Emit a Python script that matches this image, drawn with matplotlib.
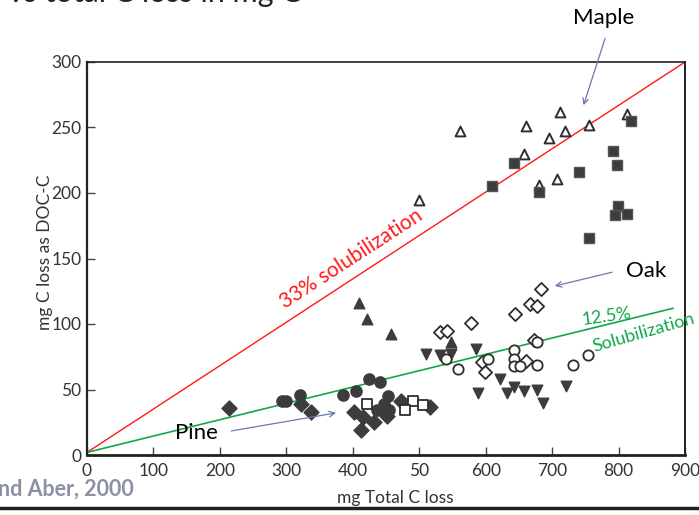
"""DOC-C loss against total C loss, with solubilization lines."""

import matplotlib
matplotlib.use("Agg")
import matplotlib.pyplot as plt
from matplotlib.lines import Line2D

plt.rcParams["font.family"] = ["Lato", "DejaVu Sans"]

# maple
maple_open_tri_x = [500, 561, 661, 712, 720, 696, 658, 756, 812, 681, 707]
maple_open_tri_y = [195, 247, 251, 262, 247, 242, 230, 252, 260, 206, 211]
maple_sq_x = [642, 610, 681, 740, 791, 798, 818, 799, 795, 812, 756]
maple_sq_y = [223, 205, 201, 216, 232, 221, 255, 190, 183, 184, 166]

# filled triangles (up / down)
tri_up_x = [410, 422, 457, 548]
tri_up_y = [116, 104, 92, 86]
tri_down_x = [510, 532, 548, 585, 589, 621, 642, 632, 657, 677, 686, 721]
tri_down_y = [77, 76, 77, 81, 47, 58, 52, 47.5, 49, 50, 39.5, 53]

# oak
oak_diamond_x = [532, 542, 578, 644, 666, 677, 684, 672, 595, 599, 661]
oak_diamond_y = [94, 95, 101, 108, 115, 114, 127, 88, 71, 63, 72]
oak_circle_x = [540, 558, 603, 642, 642, 642, 652, 677, 678, 731, 754]
oak_circle_y = [73, 66, 73, 80, 73, 68, 68, 69, 86, 69, 76]

# pine
pine_circle_x = [294, 300, 321, 385, 405, 424, 441, 453, 447, 436, 455]
pine_circle_y = [41, 41, 46, 46, 49, 58, 56, 45, 39, 34, 34]
pine_diamond_x = [213, 322, 337, 402, 416, 432, 413, 448, 452, 472, 516]
pine_diamond_y = [36, 39, 33, 33, 29, 25, 19, 32, 30, 41, 37]
pine_sq_x = [422, 490, 479, 505]
pine_sq_y = [39, 41, 34, 38]

# solubilization reference lines
line33_x = [0, 900]
line33_y = [2, 300]
line125_x = [0, 882]
line125_y = [2, 112]

xticks = [0, 100, 200, 300, 400, 500, 600, 700, 800, 900]
xtick_labels = ["0", "100", "200", "300", "400", "50", "600", "700", "800", "900"]
yticks = [0, 50, 100, 150, 200, 250, 300]

fig = plt.figure(figsize=(6.99, 5.15), dpi=100)
ax = fig.add_axes([87 / 699, 60 / 515, 598 / 699, 393 / 515])

ax.plot(line33_x, line33_y, color="#ff1a1a", lw=1.0, zorder=2)
ax.plot(line125_x, line125_y, color="#10a848", lw=1.2, zorder=2)

dark = "#3c3c3c"
edge = "#2e2e2e"
ax.scatter(maple_open_tri_x, maple_open_tri_y, marker="^", s=50, facecolors="white", edgecolors=edge, linewidths=1.4, zorder=3)
ax.scatter(maple_sq_x, maple_sq_y, marker="s", s=60, color=dark, edgecolors="#555", zorder=3)
ax.scatter(tri_up_x, tri_up_y, marker="^", s=58, color=dark, zorder=3)
ax.scatter(tri_down_x, tri_down_y, marker="v", s=58, color=dark, zorder=3)
ax.scatter(oak_diamond_x, oak_diamond_y, marker="D", s=45, facecolors="white", edgecolors=edge, linewidths=1.3, zorder=3)
ax.scatter(oak_circle_x, oak_circle_y, marker="o", s=55, facecolors="white", edgecolors=edge, linewidths=1.3, zorder=3)
ax.scatter(pine_circle_x, pine_circle_y, marker="o", s=65, color=dark, zorder=3)
ax.scatter(pine_diamond_x, pine_diamond_y, marker="D", s=58, color=dark, zorder=3)
ax.scatter(pine_sq_x, pine_sq_y, marker="s", s=55, facecolors="white", edgecolors=edge, linewidths=1.3, zorder=3)

ax.set_xlim(0, 900)
ax.set_ylim(0, 300)
ax.set_xticks(xticks)
ax.set_xticklabels(xtick_labels)
ax.set_yticks(yticks)
ax.tick_params(direction="in", length=6, width=1, colors="#444", labelsize=12.5, labelcolor="#333")
ax.tick_params(axis="x", pad=6)
ax.tick_params(axis="y", pad=4)
for side, lw in [("left", 1.6), ("right", 1.4), ("top", 1.2), ("bottom", 2.0)]:
    ax.spines[side].set_linewidth(lw)
    ax.spines[side].set_color("#222")

# line labels
ax.text(398, 150, "33% solubilization", color="#ff1a1a", fontsize=15, rotation=33,
        ha="center", va="center", rotation_mode="anchor")
ax.text(782, 106, "12.5%", color="#10a848", fontsize=13, rotation=8,
        ha="center", va="center", rotation_mode="anchor")
ax.text(838, 93, "Solubilization", color="#10a848", fontsize=13, rotation=16,
        ha="center", va="center", rotation_mode="anchor", clip_on=False)

# species labels with arrows
arrow = dict(arrowstyle="->", color="#6a78b0", lw=0.9)
ax.text(778, 333.5, "Maple", fontsize=16, ha="center", va="center", clip_on=False)
ax.annotate("", xy=(746, 265), xytext=(781, 320), arrowprops=arrow, annotation_clip=False)
ax.text(841, 140.5, "Oak", fontsize=16, ha="center", va="center", clip_on=False)
ax.annotate("", xy=(700, 128.5), xytext=(794, 140), arrowprops=arrow)
ax.text(164, 17, "Pine", fontsize=16, ha="center", va="center")
ax.annotate("", xy=(379, 32.5), xytext=(213, 18), arrowprops=arrow)

fig.text(45 / 699, 1 - 252 / 515, "mg C loss as DOC-C", rotation=90, fontsize=12.5,
         color="#333", ha="center", va="center")
fig.text(395 / 699, 1 - 498 / 515, "mg Total C loss", fontsize=12.5, color="#333",
         ha="center", va="center")

# slide fragments: cut-off title, citation and footer rule
fig.text(8 / 699, 1 - 2 / 515, "vs total C loss in mg C", fontsize=22, color="#222",
         ha="left", va="baseline")
fig.text(-2 / 699, 1 - 489 / 515, "nd Aber, 2000", fontsize=15.5, fontweight="bold",
         color="#8c90a6", ha="left", va="center")
fig.add_artist(Line2D([0, 1], [1 - 508 / 515, 1 - 508 / 515], color="#222", lw=2.5,
                      transform=fig.transFigure))

fig.savefig("out.png", dpi=100)
plt.close(fig)
